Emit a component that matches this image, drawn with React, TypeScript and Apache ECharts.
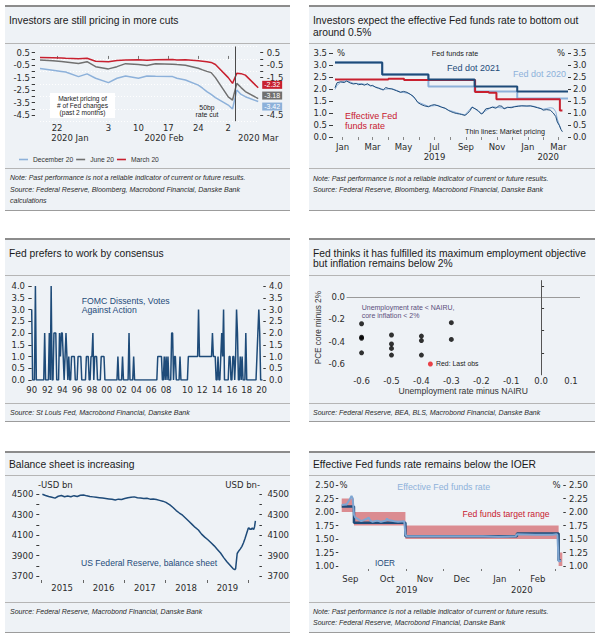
import React, { useEffect, useRef } from "react";
import * as echarts from "echarts";

const MONTHS = ["Jan", "Feb", "Mar", "Apr", "May", "Jun", "Jul", "Aug", "Sep", "Oct", "Nov", "Dec"];

// ---------- Panel 1: market pricing of # of Fed changes ----------
const p1Dates = ["2020-01-18", "2020-01-21", "2020-01-23", "2020-01-24", "2020-01-27", "2020-01-29", "2020-01-31", "2020-02-03", "2020-02-05", "2020-02-07", "2020-02-10", "2020-02-12", "2020-02-14", "2020-02-18", "2020-02-19", "2020-02-21", "2020-02-24", "2020-02-25", "2020-02-26", "2020-02-27", "2020-02-28", "2020-03-02", "2020-03-03", "2020-03-04", "2020-03-05", "2020-03-06", "2020-03-09"];
const p1Dec20 = [-0.76, -0.9, -1.0, -1.05, -1.42, -1.2, -1.55, -1.9, -1.55, -1.37, -1.55, -1.37, -1.4, -1.42, -1.55, -1.69, -2.1, -2.35, -2.63, -2.85, -3.1, -3.7, -4.02, -2.49, -2.85, -3.03, -3.42];
const p1June20 = [-0.09, -0.15, -0.2, -0.24, -0.36, -0.22, -0.62, -0.8, -0.62, -0.38, -0.45, -0.52, -0.38, -0.42, -0.45, -0.5, -0.75, -0.88, -1.0, -1.1, -1.5, -3.05, -3.3, -1.96, -2.3, -2.62, -3.18];
const p1March20 = [0.12, 0.1, 0.08, 0.06, 0.02, 0.06, -0.18, -0.22, -0.12, -0.08, -0.06, -0.1, -0.06, -0.05, -0.08, -0.06, -0.15, -0.18, -0.22, -0.28, -0.45, -1.5, -1.96, -1.15, -1.18, -1.3, -2.32];
const p1EndTags = ["-3.42", "-3.18", "-2.32"];
const p1DayLabels = ["2020-01-22", "2020-02-03", "2020-02-10", "2020-02-17", "2020-02-24", "2020-03-02"];
const p1MonthLabels = ["2020-01-25", "2020-02-16", "2020-03-09"];
const p1Cut = "2020-03-03 18:00";
const p1YLabels = [0.5, -0.5, -1.5, -2.5, -3.5, -4.5];
const p1YTicks = [0.5, 0, -0.5, -1, -1.5, -2, -2.5, -3, -3.5, -4, -4.5];
const p1YLabelsRight = [0.5, -0.5, -1.5, -4.5];
const p1YTicksRight = [0.5, 0, -0.5, -1, -1.5, -4.5];

// ---------- Panel 2: Fed funds rate ----------
const p2Dot2021 = [["2018-12-17", 3.1], ["2019-03-20", 2.6], ["2019-06-19", 2.4], ["2019-09-18", 2.1], ["2019-12-11", 1.9], ["2020-03-20", 1.9]];
const p2Dot2020 = [["2018-12-17", 3.1], ["2019-03-20", 2.6], ["2019-06-19", 2.1], ["2019-09-18", 1.9], ["2019-12-11", 1.6], ["2020-03-20", 1.6]];
const p2Effr = [["2018-12-17", 2.4], ["2019-04-01", 2.43], ["2019-05-02", 2.38], ["2019-09-19", 1.88], ["2019-10-16", 1.84], ["2019-10-31", 1.57], ["2020-03-04", 1.1], ["2020-03-09", 1.1]];
const p2Pricing2021 = [["2018-12-17", 2.05], ["2018-12-21", 2.26], ["2018-12-28", 2.3], ["2019-01-04", 2.27], ["2019-01-09", 2.33], ["2019-01-16", 2.25], ["2019-01-22", 2.21], ["2019-01-28", 2.23], ["2019-02-01", 2.18], ["2019-02-08", 2.2], ["2019-02-13", 2.16], ["2019-02-19", 2.22], ["2019-02-25", 2.13], ["2019-03-01", 2.15], ["2019-03-07", 2.07], ["2019-03-13", 2.03], ["2019-03-19", 1.98], ["2019-03-22", 1.96], ["2019-03-27", 2.06], ["2019-04-02", 2.02], ["2019-04-08", 2.0], ["2019-04-12", 1.97], ["2019-04-17", 1.93], ["2019-04-25", 1.86], ["2019-05-01", 1.9], ["2019-05-08", 1.86], ["2019-05-14", 1.78], ["2019-05-20", 1.7], ["2019-05-24", 1.6], ["2019-05-29", 1.44], ["2019-06-04", 1.36], ["2019-06-11", 1.3], ["2019-06-19", 1.26], ["2019-06-25", 1.32], ["2019-07-01", 1.35], ["2019-07-08", 1.3], ["2019-07-15", 1.24], ["2019-07-22", 1.2], ["2019-07-29", 1.1], ["2019-08-02", 1.06], ["2019-08-07", 1.02], ["2019-08-13", 0.98], ["2019-08-19", 0.96], ["2019-08-23", 0.94], ["2019-08-30", 0.9], ["2019-09-04", 0.98], ["2019-09-09", 1.1], ["2019-09-13", 1.24], ["2019-09-19", 1.18], ["2019-09-25", 1.1], ["2019-10-01", 0.96], ["2019-10-04", 0.98], ["2019-10-10", 1.17], ["2019-10-17", 1.2], ["2019-10-23", 1.24], ["2019-10-30", 1.2], ["2019-11-05", 1.3], ["2019-11-11", 1.28], ["2019-11-15", 1.17], ["2019-11-22", 1.24], ["2019-11-29", 1.22], ["2019-12-06", 1.26], ["2019-12-13", 1.28], ["2019-12-20", 1.3], ["2019-12-30", 1.29], ["2020-01-06", 1.3], ["2020-01-13", 1.26], ["2020-01-20", 1.22], ["2020-01-27", 1.18], ["2020-01-31", 1.12], ["2020-02-07", 1.14], ["2020-02-14", 1.12], ["2020-02-20", 1.0], ["2020-02-25", 0.85], ["2020-02-28", 0.62], ["2020-03-03", 0.48], ["2020-03-06", 0.32], ["2020-03-09", 0.22]];
const p2Pricing2020 = [["2018-12-17", 1.98], ["2018-12-21", 2.15], ["2018-12-28", 2.28], ["2019-01-09", 2.35], ["2019-01-22", 2.24], ["2019-02-08", 2.22], ["2019-02-25", 2.15], ["2019-03-13", 2.05], ["2019-03-22", 1.98], ["2019-04-08", 2.02], ["2019-04-25", 1.88], ["2019-05-14", 1.8], ["2019-05-29", 1.46], ["2019-06-19", 1.28], ["2019-07-08", 1.32], ["2019-07-29", 1.12], ["2019-08-19", 0.98], ["2019-08-30", 0.92], ["2019-09-13", 1.26], ["2019-10-01", 0.98], ["2019-10-23", 1.26], ["2019-11-15", 1.2], ["2019-12-13", 1.3], ["2020-01-13", 1.28], ["2020-01-31", 1.16], ["2020-02-14", 1.22], ["2020-02-20", 1.2], ["2020-02-25", 1.05], ["2020-02-28", 0.75], ["2020-03-03", 0.5], ["2020-03-06", 0.33]];
const p2MonthTicks = ["2019-01-01", "2019-02-01", "2019-03-01", "2019-04-01", "2019-05-01", "2019-06-01", "2019-07-01", "2019-08-01", "2019-09-01", "2019-10-01", "2019-11-01", "2019-12-01", "2020-01-01", "2020-02-01", "2020-03-01"];
const p2MonthLabels = ["2019-01-01", "2019-03-01", "2019-05-01", "2019-07-01", "2019-09-01", "2019-11-01", "2020-01-01", "2020-03-01"];
const p2YearLabels = ["2019-07-01", "2020-02-10"];
const p2YValues = [0, 0.5, 1, 1.5, 2, 2.5, 3, 3.5];

// ---------- Panel 3: FOMC dissents per meeting ----------
const p3Years = [1990, 1991, 1992, 1993, 1994, 1995, 1996, 1997, 1998, 1999, 2000, 2001, 2002, 2003, 2004, 2005, 2006, 2007, 2008, 2009, 2010, 2011, 2012, 2013, 2014, 2015, 2016, 2017, 2018, 2019, 2020];
const p3Dissents = [
  [3, 0, 0, 0, 4, 0, 0, 0, 0],
  [0, 0, 0, 0, 0, 2, 0, 0],
  [0, 0, 2, 0, 4, 0, 0, 2],
  [2, 2, 0, 0, 0, 2, 1, 2],
  [2, 1, 0, 1, 2, 1, 0, 1],
  [0, 0, 1, 1, 1, 1, 0, 0],
  [0, 1, 1, 1, 1, 0, 0, 0],
  [0, 0, 1, 1, 1, 0, 0, 1],
  [1, 2, 0, 1, 1, 1, 0, 0],
  [0, 0, 1, 1, 1, 1, 0, 0],
  [0, 0, 0, 0, 0, 0, 0, 0],
  [0, 0, 0, 0, 1, 0, 0, 0],
  [0, 1, 0, 0, 0, 0, 0, 0],
  [2, 0, 0, 0, 0, 1, 0, 0],
  [0, 0, 0, 0, 0, 0, 0, 0],
  [0, 0, 0, 0, 0, 0, 0, 0],
  [0, 0, 0, 0, 0, 0, 0, 1],
  [1, 1, 1, 1, 0, 0, 1, 0],
  [1, 0, 1, 0, 0, 0, 2, 2, 0, 1, 1, 0, 0],
  [0, 0, 1, 0, 0, 0, 0, 0, 0, 0],
  [0, 1, 1, 1, 1, 1, 1, 1],
  [1, 1, 1, 1, 3, 1, 1, 1],
  [1, 1, 1, 1, 1, 1, 1, 1],
  [1, 1, 1, 2, 1, 1, 1, 0],
  [0, 1, 0, 0, 1, 2, 1, 3],
  [0, 0, 0, 0, 0, 1, 1, 0],
  [0, 1, 1, 0, 1, 3, 2, 0],
  [0, 1, 0, 1, 0, 0, 0, 2],
  [0, 0, 0, 0, 0, 0, 0, 0],
  [0, 0, 0, 1, 2, 3, 2, 0],
  [0, 0],
];
const p3YValues = [0, 0.5, 1, 1.5, 2, 2.5, 3, 3.5, 4];

// ---------- Panel 4: scatter ----------
const p4Unemp = [-0.6, -0.6, -0.6, -0.6, -0.5, -0.5, -0.5, -0.5, -0.4, -0.4, -0.4, -0.3, -0.3];
const p4Core = [-0.24, -0.36, -0.37, -0.5, -0.34, -0.42, -0.46, -0.52, -0.35, -0.39, -0.52, -0.23, -0.38];
const p4LastObs = [-0.37, -0.6];
const p4YLabels = [0, -0.2, -0.4, -0.6];
const p4YTicks = [0.1, -0.1, -0.3, -0.5];
const p4XLabels = [-0.6, -0.5, -0.4, -0.3, -0.2, -0.1, 0, 0.1];

// ---------- Panel 5: Fed balance sheet ----------
const p5Balance = [["2015-01-07", 4500], ["2015-02-04", 4488], ["2015-03-04", 4478], ["2015-04-01", 4470], ["2015-04-29", 4462], ["2015-05-27", 4480], ["2015-06-24", 4488], ["2015-07-22", 4476], ["2015-08-19", 4482], ["2015-09-16", 4475], ["2015-10-14", 4486], ["2015-11-11", 4478], ["2015-12-09", 4490], ["2016-01-06", 4492], ["2016-02-03", 4484], ["2016-03-02", 4478], ["2016-03-30", 4474], ["2016-04-27", 4470], ["2016-05-25", 4466], ["2016-06-22", 4462], ["2016-07-20", 4458], ["2016-08-17", 4454], ["2016-09-14", 4450], ["2016-10-12", 4444], ["2016-11-09", 4452], ["2016-12-07", 4449], ["2017-01-04", 4458], ["2017-02-01", 4466], ["2017-03-01", 4470], ["2017-03-29", 4474], ["2017-04-26", 4466], ["2017-05-24", 4462], ["2017-06-21", 4458], ["2017-07-19", 4460], ["2017-08-16", 4452], ["2017-09-13", 4454], ["2017-10-11", 4448], ["2017-11-08", 4440], ["2017-12-06", 4432], ["2018-01-03", 4420], ["2018-02-07", 4395], ["2018-03-07", 4370], ["2018-04-04", 4340], ["2018-05-02", 4316], ["2018-05-30", 4295], ["2018-06-27", 4265], ["2018-07-25", 4235], ["2018-08-22", 4205], ["2018-09-19", 4175], ["2018-10-17", 4150], ["2018-11-14", 4110], ["2018-12-12", 4080], ["2019-01-09", 4055], ["2019-02-06", 4025], ["2019-03-06", 3995], ["2019-04-03", 3960], ["2019-05-01", 3925], ["2019-05-29", 3880], ["2019-06-26", 3840], ["2019-07-24", 3805], ["2019-08-21", 3770], ["2019-09-04", 3762], ["2019-09-11", 3770], ["2019-09-18", 3845], ["2019-09-25", 3920], ["2019-10-09", 3945], ["2019-10-23", 3965], ["2019-11-06", 3990], ["2019-11-20", 4025], ["2019-12-04", 4070], ["2019-12-18", 4118], ["2020-01-01", 4167], ["2020-01-08", 4170], ["2020-01-15", 4155], ["2020-01-22", 4160], ["2020-01-29", 4157], ["2020-02-05", 4170], ["2020-02-12", 4160], ["2020-02-19", 4158], ["2020-02-26", 4185], ["2020-03-04", 4240]];
const p5YearTicks = ["2015-01-01", "2016-01-01", "2017-01-01", "2018-01-01", "2019-01-01", "2020-01-01"];
const p5YearLabels = ["2015-07-01", "2016-07-01", "2017-07-01", "2018-07-01", "2019-07-01"];
const p5YLabels = [3700, 3900, 4100, 4300, 4500];
const p5YTicks = [3700, 3800, 3900, 4000, 4100, 4200, 4300, 4400, 4500];

// ---------- Panel 6: EFFR vs IOER ----------
const p6Effr = [["2019-09-09", 2.13], ["2019-09-12", 2.14], ["2019-09-13", 2.14], ["2019-09-16", 2.25], ["2019-09-17", 2.3], ["2019-09-18", 2.25], ["2019-09-19", 1.95], ["2019-09-20", 1.9], ["2019-09-23", 1.86], ["2019-09-25", 1.83], ["2019-09-27", 1.85], ["2019-09-30", 1.88], ["2019-10-01", 1.9], ["2019-10-02", 1.85], ["2019-10-04", 1.82], ["2019-10-08", 1.84], ["2019-10-11", 1.82], ["2019-10-15", 1.84], ["2019-10-16", 1.88], ["2019-10-17", 1.85], ["2019-10-22", 1.83], ["2019-10-25", 1.82], ["2019-10-30", 1.83], ["2019-10-31", 1.58], ["2019-11-01", 1.55], ["2019-11-15", 1.55], ["2019-12-02", 1.55], ["2019-12-16", 1.55], ["2019-12-31", 1.55], ["2020-01-02", 1.55], ["2020-01-15", 1.54], ["2020-01-29", 1.55], ["2020-01-30", 1.59], ["2020-02-14", 1.58], ["2020-02-28", 1.58], ["2020-03-02", 1.59], ["2020-03-03", 1.58], ["2020-03-04", 1.09], ["2020-03-05", 1.09], ["2020-03-06", 1.1]];
const p6Ioer = [["2019-09-09", 2.1], ["2019-09-19", 1.8], ["2019-10-31", 1.55], ["2020-01-30", 1.6], ["2020-03-04", 1.1], ["2020-03-06", 1.1]];
const p6RangeStart = ["2019-09-09", "2019-09-19", "2019-10-31", "2020-03-04"];
const p6RangeEnd = ["2019-09-19", "2019-10-31", "2020-03-04", "2020-03-07"];
const p6RangeLow = [2.0, 1.75, 1.5, 1.0];
const p6RangeHigh = [2.25, 2.0, 1.75, 1.25];
const p6MonthTicks = ["2019-10-01", "2019-11-01", "2019-12-01", "2020-01-01", "2020-02-01", "2020-03-01"];
const p6MonthLabels = ["2019-09-16", "2019-10-16", "2019-11-16", "2019-12-16", "2020-01-16", "2020-02-16"];
const p6YearLabels = ["2019-11-01", "2020-02-03"];
const p6YValues = [1, 1.25, 1.5, 1.75, 2, 2.25, 2.5];

// ---------- styling ----------
const AXF = "DejaVu Sans";
const TXF = "Liberation Sans";
const DARK = "#1e4b79";
const LIGHT = "#8db1da";
const RED = "#c8202f";
const GRAY = "#707070";
const BG = "#eef2f6";
const LABC = "#2b2b2b";

function ts(s: string): number {
  const m = s.match(/(\d+)-(\d+)-(\d+)(?: (\d+):(\d+))?/) as RegExpMatchArray;
  return Date.UTC(+m[1], +m[2] - 1, +m[3], m[4] ? +m[4] : 0, m[5] ? +m[5] : 0);
}
const pairs = (arr: any[]) => arr.map((p) => [ts(p[0]), p[1]]);
const ud = (v: number) => new Date(Math.round(v));

const lab = (o: any) => ({ fontFamily: AXF, fontSize: 8.5, color: LABC, ...o });
const off = { show: false };

function yAx(gridIndex: number, position: string, min: number, max: number, interval: number, o: any) {
  return {
    type: "value", gridIndex, position, min, max, interval, offset: o.offset || 0,
    axisLine: off, splitLine: off,
    axisTick: { show: true, inside: !!o.inside, length: o.tickLen, lineStyle: { color: "#3a3a3a", width: 1 }, customValues: o.ticks },
    axisLabel: lab({ margin: o.margin, customValues: o.labels, formatter: o.fmt }),
    ...(o.extra || {}),
  };
}

function tx(x: number, y: number, text: string, o: any = {}) {
  const align = o.align || "left";
  return {
    type: "text", x, y, silent: true, z: 50,
    style: {
      text, fill: o.fill || "#1a1a1a", fontSize: o.size || 10.3, fontFamily: o.family || TXF,
      fontStyle: o.italic ? "italic" : "normal", fontWeight: o.weight || "normal",
      textAlign: align, align, textVerticalAlign: "middle", verticalAlign: "middle",
    },
  };
}

const frames = [
  [5, 290, 5, 43, 168, 210],
  [309, 595, 5, 43, 168, 210],
  [5, 290, 238, 275, 403, 421],
  [309, 595, 238, 275, 403, 421],
  [5, 290, 451, 475, 602, 632],
  [309, 595, 451, 475, 602, 632],
];

function buildOption(): any {
  const NOTE = "Note: Past performance is not a reliable indicator of current or future results.";
  const note = (x: number, y: number, t: string) => tx(x, y, t, { size: 7, italic: true, fill: "#2a2a2a" });

  const graphic: any[] = [];
  frames.forEach(([x0, x1, yT, yS, yN, yB]) => {
    graphic.push({ type: "rect", silent: true, z: -10, shape: { x: x0, y: yT, width: x1 - x0, height: yB - yT }, style: { fill: BG } });
    graphic.push({ type: "line", silent: true, z: -9, shape: { x1: x0, y1: yT + 1, x2: x1, y2: yT + 1 }, style: { stroke: "#8c8c8c", lineWidth: 2 } });
    graphic.push({ type: "line", silent: true, z: -9, shape: { x1: x0, y1: yS + 0.5, x2: x1, y2: yS + 0.5 }, style: { stroke: "#b5b5b5", lineWidth: 1 } });
    graphic.push({ type: "line", silent: true, z: -9, shape: { x1: x0, y1: yN + 0.5, x2: x1, y2: yN + 0.5 }, style: { stroke: "#b5b5b5", lineWidth: 1 } });
    graphic.push({ type: "line", silent: true, z: -9, shape: { x1: x0, y1: yB + 0.5, x2: x1, y2: yB + 0.5 }, style: { stroke: "#9c9c9c", lineWidth: 1 } });
  });

  // Panel 1 texts
  graphic.push(tx(9, 20, "Investors are still pricing in more cuts"));
  graphic.push({ type: "rect", silent: true, z: 40, shape: { x: 50, y: 93, width: 65, height: 25 }, style: { fill: "#ffffff" } });
  graphic.push(tx(82.5, 98.3, "Market pricing of", { size: 6.6, align: "center" }));
  graphic.push(tx(82.5, 105.5, "# of Fed changes", { size: 6.6, align: "center" }));
  graphic.push(tx(82.5, 112.7, "(past 2 months)", { size: 6.6, align: "center" }));
  graphic.push(tx(207, 107.3, "50bp", { size: 6.9, align: "center" }));
  graphic.push(tx(207, 114.6, "rate cut", { size: 6.9, align: "center" }));
  graphic.push(note(10, 177.5, NOTE));
  graphic.push(note(10, 189, "Source: Federal Reserve, Bloomberg, Macrobond Financial, Danske Bank"));
  graphic.push(note(10, 200, "calculations"));

  // Panel 2 texts
  graphic.push(tx(313, 20, "Investors expect the effective Fed funds rate to bottom out"));
  graphic.push(tx(313, 32, "around 0.5%"));
  graphic.push(tx(337, 53, "%", { family: AXF, size: 8.5, fill: LABC }));
  graphic.push(tx(565, 53, "%", { family: AXF, size: 8.5, fill: LABC, align: "right" }));
  graphic.push(tx(455, 53, "Fed funds rate", { size: 7.2, align: "center" }));
  graphic.push(tx(447, 67.7, "Fed dot 2021", { size: 9, fill: DARK }));
  graphic.push(tx(513, 74, "Fed dot 2020", { size: 9, fill: LIGHT }));
  graphic.push(tx(345, 116, "Effective Fed", { size: 9, fill: RED }));
  graphic.push(tx(345, 125.5, "funds rate", { size: 9, fill: RED }));
  graphic.push(tx(465, 131, "Thin lines: Market pricing", { size: 7.2 }));
  graphic.push(note(313, 178.5, NOTE));
  graphic.push(note(313, 189.5, "Source: Federal Reserve, Bloomberg, Macrobond Financial, Danske Bank"));

  // Panel 3 texts
  graphic.push(tx(9, 253, "Fed prefers to work by consensus"));
  graphic.push(tx(81.7, 300.7, "FOMC Dissents, Votes", { size: 8.7, fill: DARK }));
  graphic.push(tx(81.7, 310, "Against Action", { size: 8.7, fill: DARK }));
  graphic.push(note(10, 412, "Source: St Louis Fed, Macrobond Financial, Danske Bank"));

  // Panel 4 texts
  graphic.push(tx(313, 253, "Fed thinks it has fulfilled its maximum employment objective"));
  graphic.push(tx(313, 263.5, "but inflation remains below 2%"));
  graphic.push(tx(361.7, 307.2, "Unemployment rate < NAIRU,", { size: 7, fill: "#5b4f7c" }));
  graphic.push(tx(361.7, 315.2, "core inflation < 2%", { size: 7, fill: "#5b4f7c" }));
  graphic.push(tx(436, 363.3, "Red: Last obs", { size: 6.9 }));
  graphic.push(note(313, 412, "Source: Federal Reserve, BEA, BLS, Macrobond Financial, Danske Bank"));

  // Panel 5 texts
  graphic.push(tx(9, 464, "Balance sheet is increasing"));
  graphic.push(tx(38, 485, "-USD bn", { family: AXF, size: 8.5, fill: LABC }));
  graphic.push(tx(260, 485, "USD bn-", { family: AXF, size: 8.5, fill: LABC, align: "right" }));
  graphic.push(tx(81, 562.7, "US Federal Reserve, balance sheet", { size: 8.6, fill: DARK }));
  graphic.push(note(10, 611, "Source: Federal Reserve, Macrobond Financial, Danske Bank"));

  // Panel 6 texts
  graphic.push(tx(313, 464, "Effective Fed funds rate remains below the IOER"));
  graphic.push(tx(339.5, 485, "%", { family: AXF, size: 8.5, fill: LABC }));
  graphic.push(tx(560.5, 485, "%", { family: AXF, size: 8.5, fill: LABC, align: "right" }));
  graphic.push(tx(443.7, 487.3, "Effective Fed funds rate", { size: 8.8, fill: LIGHT, align: "center" }));
  graphic.push(tx(506, 514.3, "Fed funds target range", { size: 8.6, fill: RED, align: "center" }));
  graphic.push(tx(375, 563.3, "IOER", { size: 8.2, fill: DARK }));
  graphic.push(note(313, 611, NOTE));
  graphic.push(note(313, 622.7, "Source: Federal Reserve, Macrobond Financial, Danske Bank"));

  // ---------- formatters ----------
  const f1 = (v: number) => (Math.round(v * 10) / 10).toFixed(1);
  const f2 = (v: number) => (Math.round(v * 100) / 100).toFixed(2);
  const f0 = (v: number) => String(Math.round(v));
  const p4X = (v: number) => { const k = Math.round(v * 100); return k % 10 === 0 ? (k / 100).toFixed(1) : ""; };
  const monthFmt = (v: number) => MONTHS[ud(v).getUTCMonth()];
  const yearFmt = (v: number) => String(ud(v).getUTCFullYear());

  // Panel 3 categories
  const p3Cats: string[] = [];
  const p3Vals: number[] = [];
  p3Years.forEach((y, i) => p3Dissents[i].forEach((v, j) => { p3Cats.push(y + "-" + j); p3Vals.push(v); }));

  const dateAxis = (gridIndex: number, min: string, max: string) => ({
    type: "value", gridIndex, position: "bottom", min: ts(min), max: ts(max), axisLine: off, splitLine: off, scale: true,
  });

  const xAxis: any[] = [
    // 0: panel 1 days
    { ...dateAxis(0, "2020-01-18", "2020-03-09"),
      axisTick: { show: true, inside: true, length: 3, lineStyle: { color: "#777" }, customValues: p1DayLabels.map(ts) },
      axisLabel: lab({ margin: 2.5, customValues: p1DayLabels.map(ts), formatter: (v: number) => String(ud(v).getUTCDate()) }) },
    // 1: panel 1 months
    { ...dateAxis(0, "2020-01-18", "2020-03-09"), offset: 10, axisTick: off,
      axisLabel: lab({ margin: 2.5, customValues: p1MonthLabels.map(ts), formatter: (v: number) => ud(v).getUTCFullYear() + " " + MONTHS[ud(v).getUTCMonth()] }) },
    // 2: panel 2 months
    { ...dateAxis(1, "2018-12-17", "2020-03-20"),
      axisTick: { show: true, length: 3, lineStyle: { color: "#888" }, customValues: p2MonthTicks.map(ts) },
      axisLabel: lab({ margin: 5.5, customValues: p2MonthLabels.map(ts), formatter: monthFmt }) },
    // 3: panel 2 years
    { ...dateAxis(1, "2018-12-17", "2020-03-20"), offset: 10, axisTick: off,
      axisLabel: lab({ margin: 5.5, customValues: p2YearLabels.map(ts), formatter: yearFmt }) },
    // 4: panel 3 category
    { type: "category", gridIndex: 2, position: "bottom", data: p3Cats, boundaryGap: false, axisLine: off, axisTick: off, splitLine: off,
      axisLabel: lab({ margin: 5.75, interval: (i: number, val: string) => { const parts = val.split("-"); return parts[1] === "0" && +parts[0] % 2 === 0; }, formatter: (val: string) => val.slice(2, 4) }) },
    // 5: panel 4 x
    { type: "value", gridIndex: 3, position: "bottom", min: -0.65, max: 0.13, interval: 0.05, axisLine: off, axisTick: off, splitLine: off,
      axisLabel: lab({ margin: 1, customValues: p4XLabels, formatter: p4X }),
      name: "Unemployment rate minus NAIRU", nameLocation: "middle", nameGap: 10.5,
      nameTextStyle: { fontFamily: TXF, fontSize: 8.6, color: "#333" } },
    // 6: panel 5 years
    { ...dateAxis(4, "2015-01-01", "2020-03-04"), offset: 4,
      axisTick: { show: true, length: 3, lineStyle: { color: "#666" }, customValues: p5YearTicks.map(ts) },
      axisLabel: lab({ margin: 3.75, customValues: p5YearLabels.map(ts), formatter: yearFmt }) },
    // 7: panel 6 months
    { ...dateAxis(5, "2019-09-09", "2020-03-07"), offset: 3,
      axisTick: { show: true, length: 2, lineStyle: { color: "#777" }, customValues: p6MonthTicks.map(ts) },
      axisLabel: lab({ margin: 5.75, customValues: p6MonthLabels.map(ts), formatter: monthFmt }) },
    // 8: panel 6 years
    { ...dateAxis(5, "2019-09-09", "2020-03-07"), offset: 14, axisTick: off,
      axisLabel: lab({ margin: 5.75, customValues: p6YearLabels.map(ts), formatter: yearFmt }) },
  ];

  const yAxis: any[] = [
    yAx(0, "left", -5, 1, 0.5, { offset: 5, tickLen: 3.3, margin: 5, labels: p1YLabels, ticks: p1YTicks, fmt: f1 }),
    yAx(0, "right", -5, 1, 0.5, { offset: 2, tickLen: 3, margin: 6.5, labels: p1YLabelsRight, ticks: p1YTicksRight, fmt: f1 }),
    { type: "value", gridIndex: 0, position: "left", min: -5, max: 1, interval: 1, axisLine: off, axisTick: off, axisLabel: off,
      splitLine: { show: true, lineStyle: { color: "#ffffff", width: 1, type: [1, 2] } } },
    yAx(1, "left", 0, 3.5, 0.5, { offset: 2, tickLen: 4, margin: 6, labels: p2YValues, ticks: p2YValues, fmt: f1 }),
    yAx(1, "right", 0, 3.5, 0.5, { offset: 0, tickLen: 3, margin: 5, labels: p2YValues, ticks: p2YValues, fmt: f1 }),
    yAx(2, "left", 0, 4, 0.5, { offset: 0, tickLen: 3.4, margin: 6.7, labels: p3YValues, ticks: p3YValues, fmt: f1 }),
    yAx(2, "right", 0, 4, 0.5, { offset: 0.8, tickLen: 2.5, margin: 5.8, labels: p3YValues, ticks: p3YValues, fmt: f1 }),
    yAx(3, "left", -0.7, 0.15, 0.1, {
      inside: true, tickLen: 3, margin: 1.6, labels: p4YLabels, ticks: p4YTicks, fmt: f1,
      extra: { name: "PCE core minus 2%", nameLocation: "middle", nameGap: 24, nameRotate: 90, nameTextStyle: { fontFamily: TXF, fontSize: 8.2, color: "#333" } },
    }),
    yAx(4, "left", 3700, 4600, 100, { offset: 2.4, tickLen: 3, margin: 6, labels: p5YLabels, ticks: p5YTicks, fmt: f0 }),
    yAx(4, "right", 3700, 4600, 100, { offset: 4, tickLen: 2.5, margin: 8, labels: p5YLabels, ticks: p5YTicks, fmt: f0 }),
    yAx(5, "left", 1, 2.5, 0.25, { offset: 3.4, tickLen: 2.5, margin: 4, labels: p6YValues, ticks: p6YValues, fmt: f2 }),
    yAx(5, "right", 1, 2.5, 0.25, { offset: 1, tickLen: 2.5, margin: 5.7, labels: p6YValues, ticks: p6YValues, fmt: f2 }),
  ];

  const line = (name: string | undefined, xi: number, yi: number, data: any[], color: string, width: number, extra: any = {}) => ({
    name, type: "line", xAxisIndex: xi, yAxisIndex: yi, data, symbol: "none", showSymbol: false,
    lineStyle: { color, width }, itemStyle: { color }, ...extra,
  });
  const tag = (text: string, bg: string, dy: number) => ({
    show: true, formatter: text, color: "#fff", backgroundColor: bg, padding: [1, 2, 0, 2],
    fontFamily: TXF, fontSize: 7, distance: 4, offset: [0, dy],
  });

  const series: any[] = [
    // Panel 1
    line("December 20", 0, 0, p1Dates.map((d, i) => [ts(d), p1Dec20[i]]), LIGHT, 1.5, { endLabel: tag(p1EndTags[0], LIGHT, 5) }),
    line("June 20", 0, 0, p1Dates.map((d, i) => [ts(d), p1June20[i]]), GRAY, 1.5, { endLabel: tag(p1EndTags[1], GRAY, -3) }),
    line("March 20", 0, 0, p1Dates.map((d, i) => [ts(d), p1March20[i]]), RED, 1.5, {
      endLabel: tag(p1EndTags[2], RED, -3),
      markLine: { silent: true, symbol: "none", label: off, lineStyle: { color: "#4a4a4a", width: 1, type: "solid" }, data: [{ xAxis: ts(p1Cut) }] },
    }),
    // Panel 2
    line(undefined, 2, 3, pairs(p2Dot2020), LIGHT, 2, { step: "end" }),
    line(undefined, 2, 3, pairs(p2Effr), RED, 2, { step: "end" }),
    line(undefined, 2, 3, pairs(p2Dot2021), DARK, 2, { step: "end" }),
    line(undefined, 2, 3, pairs(p2Pricing2020), LIGHT, 1),
    line(undefined, 2, 3, pairs(p2Pricing2021), DARK, 1),
    // Panel 3
    line(undefined, 4, 5, p3Vals, DARK, 1.5),
    // Panel 4
    {
      type: "scatter", xAxisIndex: 5, yAxisIndex: 7, symbolSize: 5, itemStyle: { color: "#000" },
      data: p4Unemp.map((u, i) => [u, p4Core[i]]),
      markLine: {
        silent: true, symbol: "none", label: off,
        data: [
          { yAxis: 0, lineStyle: { color: "#9a9a9a", width: 1, type: "solid" } },
          { xAxis: 0, lineStyle: { color: "#555", width: 1, type: "solid" } },
        ],
      },
    },
    { type: "scatter", xAxisIndex: 5, yAxisIndex: 7, symbolSize: 5, itemStyle: { color: "#e8141b" }, data: [p4LastObs] },
    // Panel 5
    line(undefined, 6, 8, pairs(p5Balance), DARK, 1.5),
    // Panel 6
    line(undefined, 7, 11, pairs(p6Ioer), DARK, 2.5, {
      step: "end",
      markArea: {
        silent: true, itemStyle: { color: "#db8c91" },
        data: p6RangeStart.map((s, i) => [{ xAxis: ts(s), yAxis: p6RangeLow[i] }, { xAxis: ts(p6RangeEnd[i]), yAxis: p6RangeHigh[i] }]),
      },
    }),
    line(undefined, 7, 11, pairs(p6Effr), "#7fa6d2", 2),
  ];

  return {
    animation: false,
    backgroundColor: "#ffffff",
    textStyle: { fontFamily: TXF },
    grid: [
      { left: 40, top: 46.47, width: 218.2, height: 74.76 },
      { left: 335, top: 53, width: 233, height: 84 },
      { left: 31.7, top: 286, width: 230.8, height: 94 },
      { left: 346.6, top: 280.2, width: 233.4, height: 95 },
      { left: 41.7, top: 484, width: 213.7, height: 92 },
      { left: 341.7, top: 485, width: 220.6, height: 81 },
    ],
    legend: {
      left: 14, top: 151, selectedMode: false, icon: "rect", itemWidth: 9, itemHeight: 1.6, itemGap: 3,
      data: ["December 20", "June 20", "March 20"],
      textStyle: { fontFamily: TXF, fontSize: 6.7, color: "#333" },
    },
    xAxis,
    yAxis,
    series,
    graphic: { elements: graphic },
  };
}

export default function App() {
  const ref = useRef<HTMLDivElement>(null);
  useEffect(() => {
    const chart = echarts.init(ref.current as HTMLDivElement, null, { renderer: "svg" });
    chart.setOption(buildOption());
    return () => chart.dispose();
  }, []);
  return <div ref={ref} style={{ position: "fixed", left: 0, top: 0, width: 600, height: 639, background: "#fff" }} />;
}
